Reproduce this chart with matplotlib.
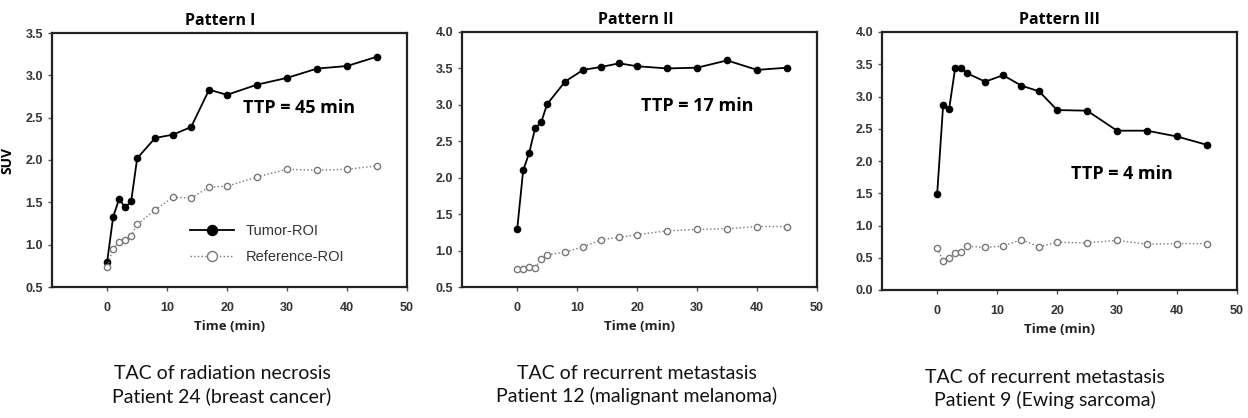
import numpy as np
import matplotlib.pyplot as plt

# Time points (min)
t = [0, 1, 2, 3, 4, 5, 8, 11, 14, 17, 20, 25, 30, 35, 40, 45]

tumor_1 = [0.80, 1.33, 1.54, 1.44, 1.51, 2.02, 2.26, 2.30, 2.39, 2.83, 2.77, 2.89, 2.97, 3.08, 3.11, 3.22]
ref_1 = [0.74, 0.95, 1.03, 1.06, 1.10, 1.24, 1.41, 1.56, 1.55, 1.68, 1.69, 1.80, 1.89, 1.88, 1.89, 1.93]

tumor_2 = [1.29, 2.10, 2.34, 2.68, 2.76, 3.01, 3.32, 3.48, 3.52, 3.57, 3.53, 3.50, 3.51, 3.61, 3.48, 3.51]
ref_2 = [0.75, 0.75, 0.77, 0.76, 0.89, 0.94, 0.98, 1.05, 1.15, 1.18, 1.22, 1.27, 1.29, 1.30, 1.33, 1.33]

tumor_3 = [1.49, 2.87, 2.81, 3.44, 3.44, 3.36, 3.23, 3.33, 3.17, 3.08, 2.79, 2.78, 2.47, 2.47, 2.38, 2.25]
ref_3 = [0.65, 0.45, 0.49, 0.57, 0.59, 0.68, 0.66, 0.68, 0.78, 0.67, 0.74, 0.73, 0.77, 0.71, 0.72, 0.72]

titles = ["Pattern I", "Pattern II", "Pattern III"]
ttp = ["TTP = 45 min", "TTP = 17 min", "TTP = 4 min"]
ttp_pos = [(32, 2.61), (30, 2.99), (30.8, 1.80)]
ylims = [(0.5, 3.5), (0.5, 4.0), (0.0, 4.0)]
captions = ["TAC of radiation necrosis\nPatient 24 (breast cancer)",
            "TAC of recurrent metastasis\nPatient 12 (malignant melanoma)",
            "TAC of recurrent metastasis\nPatient 9 (Ewing sarcoma)"]

tumors = [tumor_1, tumor_2, tumor_3]
refs = [ref_1, ref_2, ref_3]

W, H = 1248, 418
fig = plt.figure(figsize=(W / 100, H / 100), dpi=100)

lefts = [52, 462, 882]
tops = [33, 32, 32]
bottoms = [287, 287, 290]
width = 355
cap_x = [222, 637, 1045]
cap_y = [385, 385, 389]
title_x = [0.475, 0.49, 0.5]

for i in range(3):
    ax = fig.add_axes([lefts[i] / W, 1 - bottoms[i] / H, width / W, (bottoms[i] - tops[i]) / H])
    ax.plot(t, tumors[i], '-o', color='black', lw=1.3, ms=4.5, mfc='black', label='Tumor-ROI')
    ax.plot(t, refs[i], ':o', color='#777777', lw=1.0, ms=4.5, mfc='white', mec='#777777',
            label='Reference-ROI')
    ax.set_xlim(-9.2, 50)
    ax.set_ylim(*ylims[i])
    ax.set_xticks(range(0, 51, 10))
    ax.set_yticks(np.arange(ylims[i][0], ylims[i][1] + 0.01, 0.5))
    ax.yaxis.set_major_formatter(plt.FormatStrFormatter('%.1f'))
    ax.tick_params(labelsize=9, direction='out', length=3, width=1, colors='#555555',
                   labelcolor='#333333')
    ax.tick_params(axis='x', pad=8)
    for lab in ax.get_xticklabels() + ax.get_yticklabels():
        lab.set_family('Liberation Sans')
        lab.set_fontweight('bold')
    for s in ax.spines.values():
        s.set_linewidth(1.6)
        s.set_color('#222222')
    ax.set_title(titles[i], fontsize=11.5, fontweight='bold', family='Open Sans', pad=6,
                 x=title_x[i])
    ax.set_xlabel('Time (min)', fontsize=9.5, fontweight='bold', family='Open Sans',
                  labelpad=4, color='#222222')
    ax.text(ttp_pos[i][0], ttp_pos[i][1], ttp[i], fontsize=13, fontweight='bold',
            family='Open Sans', ha='center', va='center')
    fig.text(cap_x[i] / W, 1 - cap_y[i] / H, captions[i], fontsize=14, family='Lato',
             ha='center', va='center', linespacing=1.3, color='#111111')
    if i == 0:
        ax.set_ylabel('SUV', fontsize=10, fontweight='bold', family='Open Sans', labelpad=8)
        leg = ax.legend(loc='lower right', bbox_to_anchor=(0.86, 0.04), frameon=False,
                        handlelength=3, markerscale=1.6, labelspacing=0.8,
                        prop={'family': 'Liberation Sans', 'size': 10.5})
        for txt in leg.get_texts():
            txt.set_color('#333333')

fig.savefig('out.png', dpi=100)
